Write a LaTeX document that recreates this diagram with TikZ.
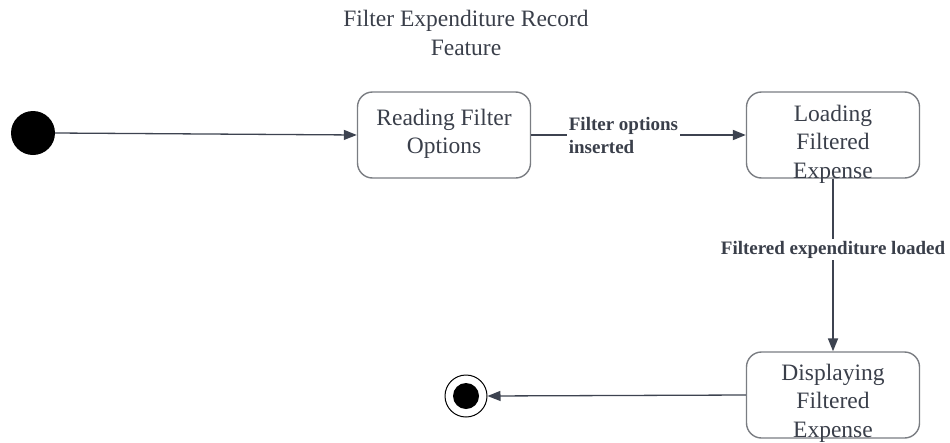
\documentclass[tikz,border=0pt]{standalone}
\usepackage{fontspec}
\setmainfont{Liberation Serif}
\usetikzlibrary{arrows.meta}
\definecolor{txt}{HTML}{3A3F4A}
\definecolor{ln}{HTML}{3D4350}
\definecolor{bx}{HTML}{7A7D82}
\tikzset{
  statebox/.style={draw=bx, line width=1.4pt, rounded corners=15pt, minimum width=173pt, minimum height=86pt, inner sep=0pt},
  statetext/.style={text=txt, align=center, font=\fontsize{23.5}{28.5}\selectfont, inner sep=0pt},
  conn/.style={draw=ln, line width=1.8pt, -{Triangle[length=13pt,width=10pt]}},
  thin conn/.style={draw=ln, line width=1.3pt, -{Triangle[length=13pt,width=10pt]}},
  tlabel/.style={text=txt, fill=white, inner sep=2pt, font=\bfseries\fontsize{19}{23}\selectfont},
}
\begin{document}
\begin{tikzpicture}[x=1pt,y=-1pt]
\useasboundingbox (0,0) rectangle (950,442);
% title
\node[text=txt, align=center, font=\fontsize{23.5}{28.5}\selectfont] (title) at (466,33) {Filter Expenditure Record\\Feature};
% initial
\node[circle, fill=black, minimum size=44pt, inner sep=0pt] (init) at (33,133) {};
% states
\node[statebox] (read) at (444,135) {};
\node[statetext] (readt) at (444,134) {Reading Filter\\Options};
\node[statebox] (load) at (833,135) {};
\node[statetext] (loadt) at (833,144) {Loading\\Filtered\\Expense};
\node[statebox] (disp) at (833,395) {};
\node[statetext] (dispt) at (833,403) {Displaying\\Filtered\\Expense};
% final
\node[circle, draw=black, line width=1pt, fill=white, minimum size=42pt, inner sep=0pt] (fin) at (466,396) {};
\node[circle, fill=black, minimum size=26pt, inner sep=0pt] (finin) at (fin.center) {};
% connectors
\draw[thin conn] (init.east) -- (read.west);
\draw[conn] (read.east) -- node[tlabel, pos=0.43, align=left] (l1) {Filter options\\inserted} (load.west);
\draw[conn] (load.south) -- node[tlabel, pos=0.41] (l2) {Filtered expenditure loaded} (disp.north);
\draw[thin conn] (disp.west) -- (fin.east);
\end{tikzpicture}
\end{document}
